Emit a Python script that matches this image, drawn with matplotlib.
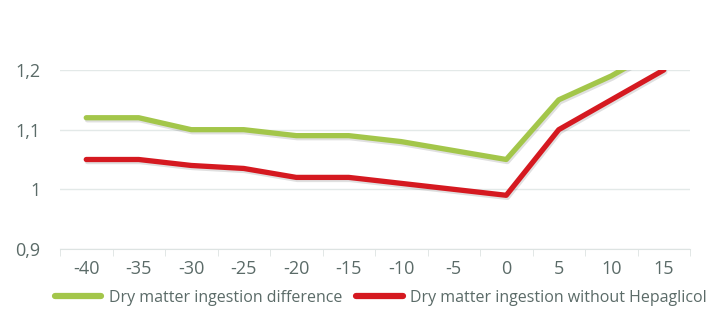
import matplotlib.pyplot as plt
import matplotlib.patheffects as pe
import numpy as np

days = ["-40", "-35", "-30", "-25", "-20", "-15", "-10", "-5", "0", "5", "10", "15"]
ingestion_diff = [1.12, 1.12, 1.10, 1.10, 1.09, 1.09, 1.08, 1.065, 1.05, 1.15, 1.19, 1.24]
ingestion_without = [1.05, 1.05, 1.04, 1.035, 1.02, 1.02, 1.01, 1.0, 0.99, 1.10, 1.15, 1.20]
y_ticks = [0.9, 1.0, 1.1, 1.2]
y_labels = ["0,9", "1", "1,1", "1,2"]

plt.rcParams["font.family"] = ["Open Sans", "DejaVu Sans"]
text_color = "#5b6b68"

fig = plt.figure(figsize=(7.24, 3.11), dpi=100)
ax = fig.add_axes([60 / 724, 1 - 249 / 311, 630 / 724, 179 / 311])

x = np.arange(len(days))
shadow = [pe.SimpleLineShadow(offset=(0.8, -1.5), alpha=0.12), pe.Normal()]
ax.plot(x, ingestion_diff, color="#a3c64a", linewidth=3.8, solid_joinstyle="round",
        solid_capstyle="round", label="Dry matter ingestion difference", path_effects=shadow)
ax.plot(x, ingestion_without, color="#d51920", linewidth=3.8, solid_joinstyle="round",
        solid_capstyle="round", label="Dry matter ingestion without Hepaglicol",
        path_effects=shadow)

ax.set_xlim(-0.5, len(days) - 0.5)
ax.set_ylim(0.9, 1.2)
ax.set_yticks(y_ticks)
ax.set_yticklabels(y_labels)
ax.set_xticks(x)
ax.set_xticklabels(days)
ax.set_xticks(np.arange(-0.5, len(days)), minor=True)

ax.grid(axis="y", color="#e3e9e8", linewidth=1)
ax.set_axisbelow(True)
for side in ["top", "right", "left"]:
    ax.spines[side].set_visible(False)
ax.spines["bottom"].set_color("#dde3e2")

ax.tick_params(axis="y", length=0, pad=14, labelsize=13, labelcolor=text_color)
ax.tick_params(axis="x", which="major", length=0, pad=8, labelsize=13, labelcolor=text_color)
ax.tick_params(axis="x", which="minor", length=5, color="#dde3e2")

leg = ax.legend(loc="center left", bbox_to_anchor=(-5 / 630, -49 / 179), ncol=2,
                frameon=False, fontsize=11.5, labelcolor=text_color, handlelength=2.9,
                handletextpad=0.45, columnspacing=0.9, borderaxespad=0, borderpad=0)
for line in leg.get_lines():
    line.set_linewidth(4.5)
    line.set_path_effects([])

fig.savefig("out.png", dpi=100)
